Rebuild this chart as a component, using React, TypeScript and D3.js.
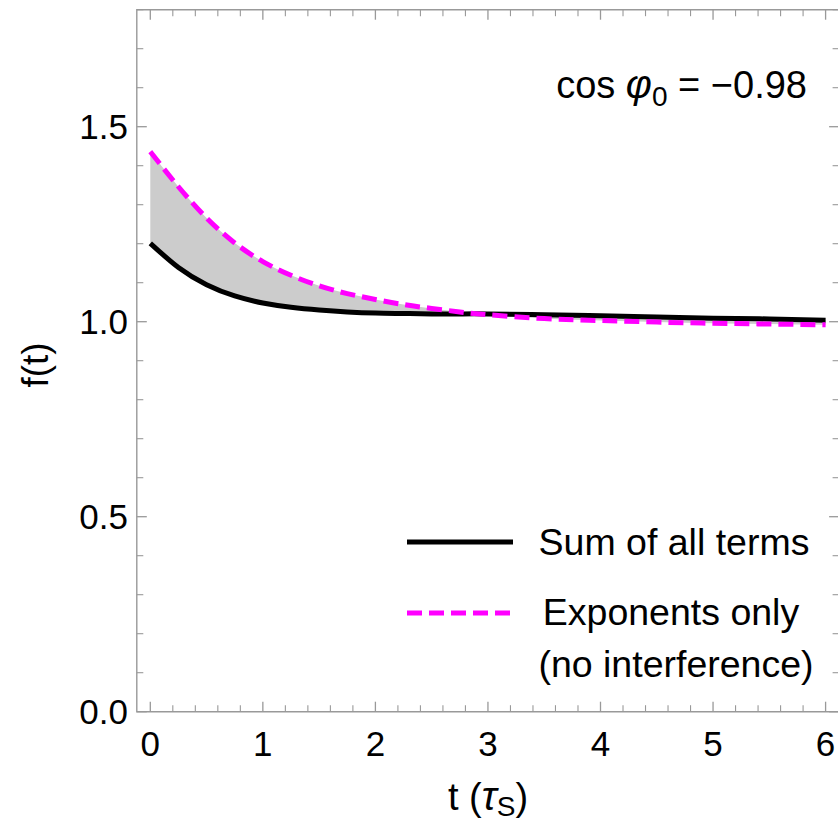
import React from "react";
import * as d3 from "d3";

const tValues = [0, 0.25, 0.5, 0.75, 1.0, 1.25, 1.5, 1.75, 2.0, 2.25, 2.5, 2.75, 3.0, 3.5, 4.0, 4.5, 5.0, 5.5, 6.0];
const sumAllTerms = [1.201, 1.139, 1.095, 1.066, 1.048, 1.037, 1.03, 1.025, 1.022, 1.021, 1.02, 1.02, 1.02, 1.018, 1.015, 1.012, 1.009, 1.007, 1.004];
const exponentsOnly = [1.436, 1.346, 1.266, 1.202, 1.154, 1.119, 1.092, 1.072, 1.057, 1.044, 1.034, 1.025, 1.018, 1.008, 1.003, 0.999, 0.996, 0.994, 0.992];
const xMajorTicks = [0, 1, 2, 3, 4, 5, 6];
const yMajorTicks = [0, 0.5, 1.0, 1.5];
const legendLabels = ["Sum of all terms", "Exponents only", "(no interference)"];

const W = 838;
const H = 825;
const FONT = "'Liberation Sans', Arial, Helvetica, sans-serif";

export default function App() {
  const x = d3.scaleLinear().domain([-0.12, 6.12]).range([136.8, 839.1]);
  const y = d3.scaleLinear().domain([0, 1.8]).range([711.7, 9.7]);
  const left = x(-0.12);
  const right = x(6.12);
  const top = y(1.8);
  const bottom = y(0);

  const pts = tValues.map((t, i) => ({ t, s: sumAllTerms[i], e: exponentsOnly[i] }));
  const curve = d3.curveNatural;
  const area = d3
    .area<any>()
    .x((d) => x(d.t))
    .y0((d) => y(d.s))
    .y1((d) => y(d.e))
    .curve(curve);
  const lineS = d3.line<any>().x((d) => x(d.t)).y((d) => y(d.s)).curve(curve);
  const lineE = d3.line<any>().x((d) => x(d.t)).y((d) => y(d.e)).curve(curve);

  const xMinor = d3.range(0, 6.12, 0.2).map((v) => +v.toFixed(2)).filter((v) => Math.abs(v - Math.round(v)) > 1e-6);
  const yMinor = d3.range(0, 1.81, 0.1).map((v) => +v.toFixed(2)).filter((v) => Math.abs(v * 2 - Math.round(v * 2)) > 1e-6);

  const frameColor = "#999999";
  const MAJ = 10;
  const MIN = 6.5;

  return (
    <svg width={W} height={H} style={{ position: "absolute", left: 0, top: 0, background: "#fff" }} fontFamily={FONT}>
      <rect x={0} y={0} width={W} height={H} fill="#fff" />
      <path d={area(pts) || ""} fill="#cccccc" stroke="none" />
      {/* frame: left, top, bottom (right edge lies at the picture's border) */}
      <path
        d={`M${right},${top}H${left}V${bottom}H${right}`}
        fill="none"
        stroke={frameColor}
        strokeWidth={1.4}
      />
      {xMajorTicks.map((v) => (
        <g key={"xm" + v}>
          <line x1={x(v)} x2={x(v)} y1={bottom} y2={bottom - MAJ} stroke={frameColor} strokeWidth={1.3} />
          <line x1={x(v)} x2={x(v)} y1={top} y2={top + MAJ} stroke={frameColor} strokeWidth={1.3} />
          <text x={x(v)} y={756} textAnchor="middle" fontSize={35} fill="#000">
            {v}
          </text>
        </g>
      ))}
      {xMinor.map((v) => (
        <g key={"xn" + v}>
          <line x1={x(v)} x2={x(v)} y1={bottom} y2={bottom - MIN} stroke={frameColor} strokeWidth={1.1} />
          <line x1={x(v)} x2={x(v)} y1={top} y2={top + MIN} stroke={frameColor} strokeWidth={1.1} />
        </g>
      ))}
      {yMajorTicks.map((v) => (
        <g key={"ym" + v}>
          <line x1={left} x2={left + MAJ} y1={y(v)} y2={y(v)} stroke={frameColor} strokeWidth={1.3} />
          <line x1={right} x2={right - MAJ} y1={y(v)} y2={y(v)} stroke={frameColor} strokeWidth={1.3} />
          <text x={128} y={y(v) + 12.3} textAnchor="end" fontSize={35} fill="#000">
            {v.toFixed(1)}
          </text>
        </g>
      ))}
      {yMinor.map((v) => (
        <g key={"yn" + v}>
          <line x1={left} x2={left + MIN} y1={y(v)} y2={y(v)} stroke={frameColor} strokeWidth={1.1} />
          <line x1={right} x2={right - MIN} y1={y(v)} y2={y(v)} stroke={frameColor} strokeWidth={1.1} />
        </g>
      ))}
      <path d={lineS(pts) || ""} fill="none" stroke="#000" strokeWidth={5} />
      <path d={lineE(pts) || ""} fill="none" stroke="#ff00ff" strokeWidth={5} strokeDasharray="15 7" />
      <text x={807} y={98} textAnchor="end" fontSize={38} fill="#000">
        cos <tspan fontStyle="italic" fontSize={40}>φ</tspan>
        <tspan fontSize={28} dy={8}>0</tspan>
        <tspan dy={-8}> = −0.98</tspan>
      </text>
      <line x1={407} x2={513} y1={542} y2={542} stroke="#000" strokeWidth={5} />
      <line x1={407} x2={511} y1={613} y2={613} stroke="#ff00ff" strokeWidth={5} strokeDasharray="15 7" />
      <text x={674} y={555} textAnchor="middle" fontSize={37.5} fill="#000">{legendLabels[0]}</text>
      <text x={671} y={625} textAnchor="middle" fontSize={37.5} fill="#000">{legendLabels[1]}</text>
      <text x={676} y={677} textAnchor="middle" fontSize={37.5} fill="#000">{legendLabels[2]}</text>
      <text x={488} y={810} textAnchor="middle" fontSize={38} fill="#000">
        t (<tspan fontStyle="italic" fontSize={40}>τ</tspan>
        <tspan fontSize={28} dy={6}>S</tspan>
        <tspan dy={-6}>)</tspan>
      </text>
      <text transform={`translate(48, 365) rotate(-90)`} textAnchor="middle" fontSize={37} fill="#000">
        f(t)
      </text>
    </svg>
  );
}
